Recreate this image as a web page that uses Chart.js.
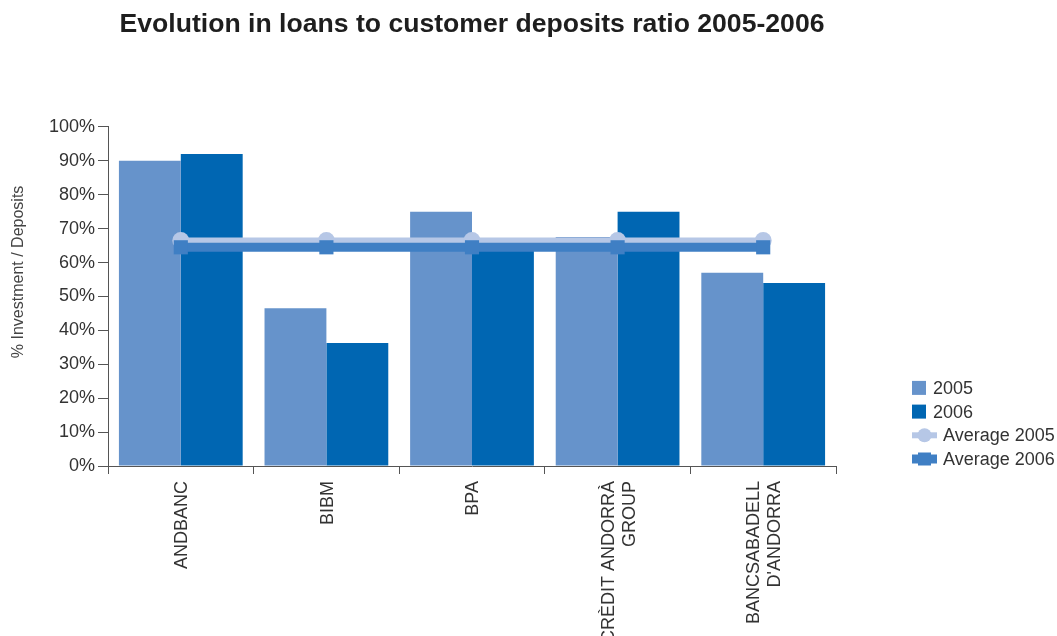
<!DOCTYPE html>
<html>
<head>
<meta charset="utf-8">
<script src="https://cdn.jsdelivr.net/npm/chart.js@4"></script>
<style>
html,body{margin:0;padding:0;background:#fff;}
#wrap{width:1057px;height:636px;position:relative;}
</style>
</head>
<body>
<div id="wrap"><canvas id="c" width="1057" height="636"></canvas></div>
<script>
const categories = ['ANDBANC', 'BIBM', 'BPA', ['CRÈDIT ANDORRÀ', 'GROUP'], ['BANCSABADELL', "D'ANDORRA"]];
const values2005 = [90, 46.5, 75, 67.5, 57];
const values2006 = [92, 36.3, 65, 75, 54];
const average2005 = [66.5, 66.5, 66.5, 66.5, 66.5];
const average2006 = [64.5, 64.5, 64.5, 64.5, 64.5];
const yTicks = [0, 10, 20, 30, 40, 50, 60, 70, 80, 90, 100];
const yAxisTitle = '% Investment / Deposits';

const FONT = "'Liberation Sans', Arial, Helvetica, sans-serif";
const C2005 = '#6693CB';
const C2006 = '#0066B2';
const CAVG05 = '#B6C7E6';
const CAVG06 = '#3F7FC4';
const AXIS = '#555555';
const TEXT = '#333333';

const extraText = {
  id: 'extraText',
  afterDraw(chart) {
    const ctx = chart.ctx;
    const area = chart.chartArea;
    const ds = chart.data.datasets;
    const xScale = chart.scales.x;
    ctx.save();

    // y axis title
    ctx.save();
    ctx.translate(19, area.top + 145);
    ctx.rotate(-Math.PI / 2);
    ctx.font = '16px ' + FONT;
    ctx.fillStyle = '#444444';
    ctx.textAlign = 'center';
    ctx.textBaseline = 'middle';
    ctx.fillText(yAxisTitle, 0, 0);
    ctx.restore();

    // category labels, rotated, centred on each category
    ctx.font = '18px ' + FONT;
    ctx.fillStyle = TEXT;
    chart.data.labels.forEach((lab, i) => {
      const lines = Array.isArray(lab) ? lab : [lab];
      const px = xScale.getPixelForValue(i);
      const n = lines.length;
      lines.forEach((t, j) => {
        ctx.save();
        ctx.translate(px + 1.5 + (j - (n - 1) / 2) * 21, area.bottom + 15);
        ctx.rotate(-Math.PI / 2);
        ctx.textAlign = 'right';
        ctx.textBaseline = 'middle';
        ctx.fillText(t, 0, 0);
        ctx.restore();
      });
    });

    // legend
    const x0 = area.right + 76;
    const step = 23.7;
    const yLast = area.bottom - 7;
    ctx.font = '18px ' + FONT;
    ctx.textBaseline = 'middle';
    ctx.textAlign = 'left';
    ds.forEach((d, i) => {
      const y = yLast - (ds.length - 1 - i) * step;
      if (d.type === 'line') {
        ctx.strokeStyle = d.borderColor;
        ctx.lineWidth = d.borderWidth;
        ctx.beginPath();
        ctx.moveTo(x0, y);
        ctx.lineTo(x0 + 25, y);
        ctx.stroke();
        ctx.fillStyle = d.pointBackgroundColor;
        ctx.beginPath();
        if (d.pointStyle === 'circle') {
          ctx.arc(x0 + 12.5, y, 7, 0, Math.PI * 2);
        } else {
          ctx.rect(x0 + 12.5 - 6.5, y - 6.5, 13, 13);
        }
        ctx.fill();
        ctx.fillStyle = TEXT;
        ctx.fillText(d.label, x0 + 31, y + 1);
      } else {
        ctx.fillStyle = d.backgroundColor;
        ctx.fillRect(x0, y - 7, 14, 14);
        ctx.fillStyle = TEXT;
        ctx.fillText(d.label, x0 + 21, y + 1);
      }
    });
    ctx.restore();
  }
};

new Chart(document.getElementById('c'), {
  type: 'bar',
  data: {
    labels: categories,
    datasets: [
      { type: 'bar', label: '2005', data: values2005, backgroundColor: C2005, order: 2,
        barPercentage: 1, categoryPercentage: 0.85 },
      { type: 'bar', label: '2006', data: values2006, backgroundColor: C2006, order: 3,
        barPercentage: 1, categoryPercentage: 0.85 },
      { type: 'line', label: 'Average 2005', data: average2005, borderColor: CAVG05,
        backgroundColor: CAVG05, pointBackgroundColor: CAVG05, pointBorderWidth: 0,
        borderWidth: 6, pointStyle: 'circle', pointRadius: 8.5, order: 1, tension: 0 },
      { type: 'line', label: 'Average 2006', data: average2006, borderColor: CAVG06,
        backgroundColor: CAVG06, pointBackgroundColor: CAVG06, pointBorderWidth: 0,
        borderWidth: 9, pointStyle: 'rect', pointRadius: 10, order: 0, tension: 0 }
    ]
  },
  options: {
    responsive: false,
    animation: false,
    layout: { padding: { left: 0, right: 221, top: 0, bottom: 0 } },
    plugins: {
      legend: { display: false },
      tooltip: { enabled: false },
      title: {
        display: true,
        text: 'Evolution in loans to customer deposits ratio 2005-2006',
        fullSize: false,
        align: 'center',
        color: '#1e1e1e',
        font: { family: FONT, size: 26.6, weight: 'bold' },
        padding: { top: 9, bottom: 86 }
      }
    },
    scales: {
      x: {
        offset: true,
        grid: { offset: true, drawOnChartArea: false, drawTicks: true, tickLength: 8, color: AXIS, lineWidth: 1 },
        border: { display: true, color: AXIS, width: 1 },
        ticks: { display: false },
        afterFit(scale) { scale.height = 170; }
      },
      y: {
        min: 0, max: 100,
        afterBuildTicks(scale) { scale.ticks = yTicks.map(v => ({ value: v })); },
        grid: { drawOnChartArea: false, drawTicks: true, tickLength: 10, color: AXIS, lineWidth: 1 },
        border: { display: true, color: AXIS, width: 1 },
        ticks: {
          color: TEXT, font: { family: FONT, size: 18 }, padding: 3,
          callback: v => v + '%'
        },
        afterFit(scale) { scale.width = 108; }
      }
    }
  },
  plugins: [extraText]
});
</script>
</body>
</html>
